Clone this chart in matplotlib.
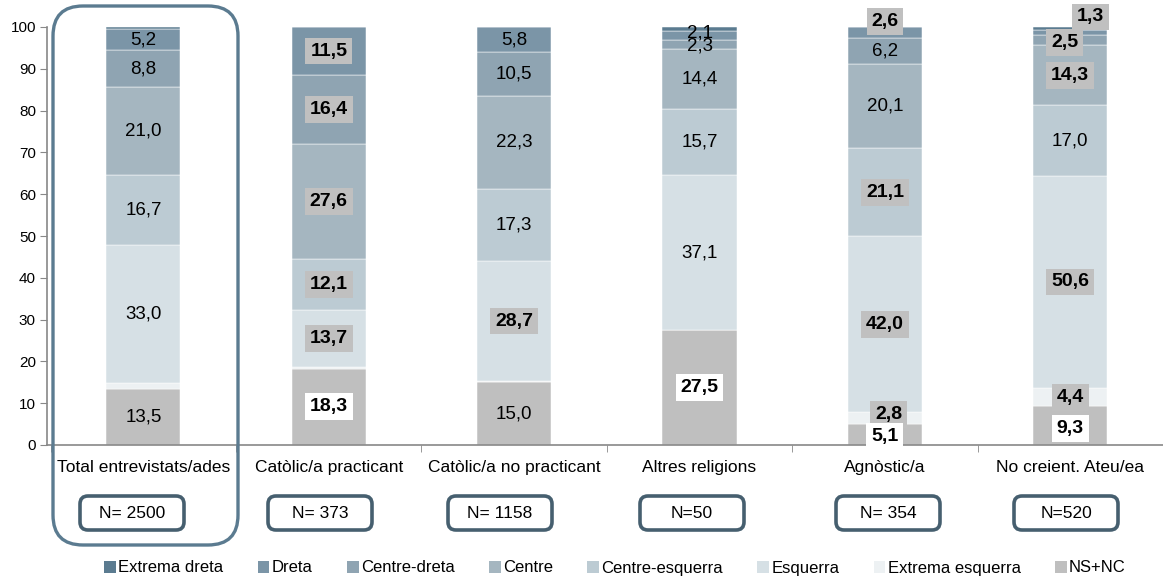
import matplotlib
matplotlib.use("Agg")
import matplotlib.pyplot as plt
from matplotlib.patches import Patch, FancyBboxPatch
from matplotlib.transforms import IdentityTransform

plt.rcParams['font.family'] = ['Liberation Sans', 'DejaVu Sans']

# categories and sample sizes
categories = ["Total entrevistats/ades", "Catòlic/a practicant", "Catòlic/a no practicant",
              "Altres religions", "Agnòstic/a", "No creient. Ateu/ea"]
sample_n = ["N= 2500", "N= 373", "N= 1158", "N=50", "N= 354", "N=520"]

# series (bottom to top), % per category
ns_nc = [13.5, 18.3, 15.0, 27.5, 5.1, 9.3]
extrema_esquerra = [1.4, 0.4, 0.3, 0.0, 2.8, 4.4]
esquerra = [33.0, 13.7, 28.7, 37.1, 42.0, 50.6]
centre_esquerra = [16.7, 12.1, 17.3, 15.7, 21.1, 17.0]
centre = [21.0, 27.6, 22.3, 14.4, 20.1, 14.3]
centre_dreta = [8.8, 16.4, 10.5, 2.3, 6.2, 2.5]
dreta = [5.2, 11.5, 5.8, 2.1, 2.6, 1.3]
extrema_dreta = [0.4, 0.0, 0.1, 0.9, 0.1, 0.6]

series = [ns_nc, extrema_esquerra, esquerra, centre_esquerra, centre,
          centre_dreta, dreta, extrema_dreta]
series_names = ["NS+NC", "Extrema esquerra", "Esquerra", "Centre-esquerra", "Centre",
                "Centre-dreta", "Dreta", "Extrema dreta"]
colors = ["#bfbfbf", "#edf1f3", "#d6e0e5", "#bccbd3", "#a5b6c0",
          "#8fa4b2", "#7b95a7", "#5b7b90"]

# label look per category, per series: n plain, g grey box, w white box, '' none
label_style = [
    ['n', '', 'n', 'n', 'n', 'n', 'n', ''],
    ['w', '', 'g', 'g', 'g', 'g', 'g', ''],
    ['n', '', 'g', 'n', 'n', 'n', 'n', ''],
    ['w', '', 'n', 'n', 'n', 'n', 'n', ''],
    ['w', 'g', 'g', 'g', 'n', 'n', 'g', ''],
    ['w', 'g', 'g', 'n', 'g', 'g', 'g', ''],
]
# labels moved off the segment centre: (category, series) -> (dx, y)
label_moves = {
    (3, 6): (0.0, 98.6),
    (3, 5): (0.0, 95.4),
    (4, 6): (0.0, 101.3),
    (4, 1): (0.02, 7.3),
    (4, 0): (0.0, 2.0),
    (5, 0): (0.0, 4.0),
    (5, 1): (0.0, 11.4),
    (5, 5): (-0.03, 96.3),
    (5, 6): (0.11, 102.4),
}

fig = plt.figure(figsize=(11.63, 5.8), dpi=100)
ax = fig.add_axes([47 / 1163, 135 / 580, 1116 / 1163, 418 / 580])

x = list(range(len(categories)))
bottom = [0.0] * len(categories)
for vals, col in zip(series, colors):
    ax.bar(x, vals, width=0.4, bottom=bottom, color=col, edgecolor='white', linewidth=0.35, zorder=2)
    bottom = [b + v for b, v in zip(bottom, vals)]

# value labels
for ci in x:
    base = 0.0
    for si, vals in enumerate(series):
        v = vals[ci]
        style = label_style[ci][si]
        if style:
            dx, y = label_moves.get((ci, si), (0.0, base + v / 2))
            txt = f"{v:.1f}".replace('.', ',')
            if style == 'n':
                ax.text(ci + dx, y, txt, ha='center', va='center', fontsize=13.5, zorder=5)
            else:
                fc = '#c0c0c0' if style == 'g' else 'white'
                ax.text(ci + dx, y, txt, ha='center', va='center', fontsize=14,
                        fontweight='bold', zorder=6 if style == 'w' else 5, clip_on=False,
                        bbox=dict(boxstyle='square,pad=0.25', fc=fc, ec='none'))
        base += v

ax.set_xlim(-0.52, 5.5)
ax.set_ylim(0, 100)
ax.set_yticks(range(0, 101, 10))
ax.tick_params(axis='y', labelsize=11, length=5, color='#888888', pad=3)
ax.set_xticks([])
ax.set_xticks([i + 0.5 for i in range(-1, 6)], minor=True)
ax.tick_params(axis='x', which='minor', length=5, color='#888888', labelbottom=False)
for s in ['top', 'right']:
    ax.spines[s].set_visible(False)
for s in ['left', 'bottom']:
    ax.spines[s].set_color('#888888')
    ax.spines[s].set_linewidth(1.2)

for ci, name in enumerate(categories):
    ax.text(ci, -0.053, name, transform=ax.get_xaxis_transform(), ha='center', va='center',
            fontsize=12.5)

# N= boxes (pixel positions, y from top)
n_box_x = [80, 268, 448, 640, 836, 1014]
for bx, lab in zip(n_box_x, sample_n):
    box = FancyBboxPatch((bx, 580 - 530), 104, 34, boxstyle="round,pad=0,rounding_size=8",
                         fc='white', ec='#465f6f', lw=2.6, transform=IdentityTransform())
    fig.add_artist(box)
    fig.text((bx + 52) / 1163, 1 - 514 / 580, lab, ha='center', va='center', fontsize=12.5)

# highlight box around total
big = FancyBboxPatch((53, 580 - 545), 185, 539, boxstyle="round,pad=0,rounding_size=30",
                     fc='none', ec='#5b7b90', lw=2.4, transform=IdentityTransform(), zorder=10)
fig.add_artist(big)

handles = [Patch(fc=c, ec='none') for c in colors[::-1]]
fig.legend(handles, series_names[::-1], loc='center', bbox_to_anchor=(615 / 1163, 1 - 568 / 580),
           ncol=8, frameon=False, fontsize=12, handlelength=0.7, handleheight=0.7,
           handletextpad=0.15, columnspacing=2.05)

fig.savefig("out.png", dpi=100)
